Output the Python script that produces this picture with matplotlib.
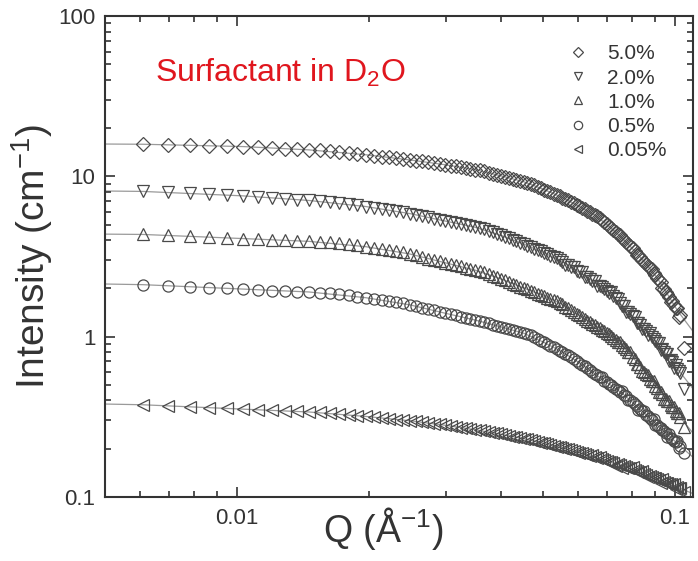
# SANS curves of the surfactant at five concentrations, with the model fits
# drawn as thin grey lines underneath the open markers

import matplotlib.pyplot as plt
from matplotlib.ticker import LogLocator, FixedLocator, FuncFormatter, NullFormatter

plt.rcParams['font.family'] = ['Liberation Sans', 'DejaVu Sans']

# measured Q (1/A), same grid for every sample
q = [0.0061, 0.00695, 0.0078, 0.00865, 0.0095, 0.01035, 0.0112, 0.01205, 0.0129, 0.01375,
     0.0146, 0.01545, 0.0163, 0.01715, 0.018, 0.01885, 0.0197, 0.02055, 0.0214, 0.02225,
     0.0231, 0.02395, 0.0248, 0.02565, 0.0265, 0.02735, 0.0282, 0.02905, 0.0299, 0.03075,
     0.0316, 0.03245, 0.0333, 0.03415, 0.035, 0.03585, 0.0367, 0.03755, 0.0384, 0.03925,
     0.0401,
     0.0418, 0.0435, 0.0452, 0.0469, 0.0486, 0.0503, 0.052, 0.0537, 0.0554, 0.0571,
     0.0588, 0.0605, 0.0622, 0.0639, 0.0656, 0.0673, 0.069, 0.0707, 0.0724, 0.0741,
     0.0758, 0.0775, 0.0792, 0.0809, 0.0826, 0.0843, 0.086, 0.0877, 0.0894, 0.0911,
     0.0928, 0.0945, 0.0962, 0.0979, 0.0996, 0.1013, 0.103,
     0.1047]

# intensities (1/cm)
i_5 = [15.85, 15.73, 15.62, 15.53, 15.44, 15.33, 15.16, 15.01, 14.87, 14.74,
       14.62, 14.50, 14.40, 14.26, 14.04, 13.83, 13.63, 13.45, 13.27, 13.11,
       12.95, 12.80, 12.66, 12.52, 12.39, 12.27, 12.12, 11.96, 11.81, 11.67,
       11.53, 11.39, 11.27, 11.14, 11.02, 10.90, 10.73, 10.55, 10.39, 10.22,
       10.07,
       9.77, 9.50, 9.25, 8.98, 8.61, 8.27, 7.95, 7.65, 7.37, 7.10,
       6.78, 6.49, 6.22, 5.97, 5.74, 5.51, 5.19, 4.89, 4.62, 4.36,
       4.12, 3.91, 3.67, 3.43, 3.22, 3.02, 2.84, 2.67, 2.51, 2.33,
       2.20, 1.99, 1.84, 1.65, 1.57, 1.50, 1.36,
       0.85]

i_2 = [8.05, 7.93, 7.82, 7.73, 7.65, 7.55, 7.44, 7.34, 7.24, 7.15,
       7.07, 7.00, 6.93, 6.84, 6.71, 6.59, 6.48, 6.37, 6.27, 6.18,
       6.09, 5.98, 5.86, 5.75, 5.64, 5.54, 5.45, 5.35, 5.26, 5.18,
       5.10, 5.02, 4.95, 4.88, 4.81, 4.74, 4.68, 4.58, 4.47, 4.37,
       4.28,
       4.10, 3.94, 3.78, 3.61, 3.47, 3.33, 3.20, 3.08, 2.94, 2.79,
       2.70, 2.52, 2.35, 2.28, 2.22, 2.08, 1.99, 1.86, 1.79, 1.71,
       1.56, 1.43, 1.38, 1.33, 1.22, 1.12, 1.09, 1.06, 0.973, 0.915,
       0.83, 0.806, 0.78, 0.711, 0.64, 0.631, 0.596,
       0.47]

i_1 = [4.34, 4.28, 4.22, 4.17, 4.13, 4.09, 4.05, 4.02, 3.99, 3.96,
       3.93, 3.91, 3.88, 3.85, 3.78, 3.71, 3.64, 3.58, 3.53, 3.47,
       3.42, 3.36, 3.28, 3.21, 3.14, 3.07, 3.01, 2.95, 2.89, 2.84,
       2.79, 2.74, 2.69, 2.64, 2.60, 2.56, 2.52, 2.46, 2.40, 2.34,
       2.29,
       2.19, 2.09, 2.01, 1.93, 1.85, 1.79, 1.72, 1.66, 1.59, 1.50,
       1.42, 1.36, 1.29, 1.23, 1.18, 1.13, 1.08, 1.04, 0.984, 0.930,
       0.881, 0.835, 0.80, 0.722, 0.672, 0.61, 0.585, 0.547, 0.53, 0.479,
       0.449, 0.41, 0.397, 0.373, 0.365, 0.332, 0.314,
       0.274]

i_05 = [2.11, 2.08, 2.05, 2.02, 2.00, 1.98, 1.96, 1.94, 1.93, 1.91,
        1.90, 1.88, 1.87, 1.85, 1.82, 1.78, 1.75, 1.72, 1.70, 1.67,
        1.64, 1.61, 1.58, 1.55, 1.51, 1.48, 1.46, 1.43, 1.40, 1.38,
        1.36, 1.33, 1.31, 1.29, 1.27, 1.25, 1.23, 1.21, 1.19, 1.17,
        1.15,
        1.11, 1.08, 1.05, 1.02, 0.966, 0.920, 0.877, 0.838, 0.801, 0.768,
        0.728, 0.689, 0.652, 0.619, 0.588, 0.559, 0.532, 0.508, 0.485, 0.463,
        0.455, 0.424, 0.402, 0.380, 0.35, 0.343, 0.326, 0.310, 0.305, 0.281,
        0.269, 0.257, 0.237, 0.234, 0.225, 0.225, 0.207,
        0.188]

i_005 = [0.376, 0.370, 0.365, 0.361, 0.357, 0.353, 0.350, 0.347, 0.344, 0.342,
         0.339, 0.337, 0.335, 0.330, 0.326, 0.322, 0.318, 0.314, 0.311, 0.308,
         0.304, 0.301, 0.299, 0.296, 0.293, 0.291, 0.287, 0.284, 0.280, 0.277,
         0.274, 0.271, 0.268, 0.265, 0.263, 0.260, 0.258, 0.254, 0.252, 0.249,
         0.246,
         0.240, 0.236, 0.231, 0.226, 0.221, 0.216, 0.211, 0.206, 0.202, 0.198,
         0.193, 0.189, 0.185, 0.181, 0.177, 0.178, 0.170, 0.166, 0.163, 0.160,
         0.152, 0.154, 0.151, 0.147, 0.144, 0.145, 0.138, 0.135, 0.132, 0.129,
         0.123, 0.124, 0.122, 0.120, 0.121, 0.115, 0.113,
         0.107]

# the in-between points of the high-Q part, where the data get dense
q_hi = [0.04095, 0.04265, 0.04435, 0.04605, 0.04775, 0.04945, 0.05115, 0.05285, 0.05455, 0.05625,
        0.05795, 0.05965, 0.06135, 0.06305, 0.06475, 0.06645, 0.06815, 0.06985, 0.07155, 0.07325,
        0.07495, 0.07665, 0.07835, 0.08005, 0.08175, 0.08345, 0.08515, 0.08685, 0.08855, 0.09025,
        0.09195, 0.09365, 0.09535, 0.09705, 0.09875, 0.10045, 0.10215]
i_5_hi = [9.92, 9.63, 9.37, 9.11, 8.79, 8.44, 8.11, 7.80, 7.51, 7.23,
          6.94, 6.63, 6.35, 6.09, 5.85, 5.62, 5.35, 5.04, 4.75, 4.49,
          4.32, 4.01, 3.79, 3.55, 3.25, 3.12, 2.93, 2.75, 2.65, 2.42,
          2.24, 2.02, 1.91, 1.77, 1.68, 1.51, 1.33]
i_2_hi = [4.19, 4.02, 3.86, 3.69, 3.54, 3.40, 3.26, 3.14, 3.01, 2.80,
          2.72, 2.58, 2.52, 2.34, 2.23, 2.07, 2.03, 1.94, 1.89, 1.73,
          1.61, 1.55, 1.42, 1.34, 1.22, 1.18, 1.12, 1.03, 1.00, 0.944,
          0.91, 0.832, 0.781, 0.71, 0.690, 0.67, 0.613]
i_1_hi = [2.24, 2.14, 2.05, 1.97, 1.89, 1.82, 1.75, 1.69, 1.62, 1.54,
          1.46, 1.39, 1.32, 1.26, 1.20, 1.15, 1.10, 1.06, 1.01, 0.957,
          0.93, 0.858, 0.806, 0.749, 0.68, 0.649, 0.605, 0.58, 0.529, 0.495,
          0.45, 0.436, 0.410, 0.395, 0.362, 0.342, 0.335]
i_05_hi = [1.13, 1.095, 1.065, 1.035, 0.993, 0.943, 0.898, 0.857, 0.819, 0.784,
           0.748, 0.708, 0.670, 0.635, 0.603, 0.573, 0.56, 0.520, 0.496, 0.474,
           0.453, 0.433, 0.40, 0.391, 0.370, 0.352, 0.345, 0.318, 0.302, 0.28,
           0.275, 0.263, 0.251, 0.247, 0.229, 0.220, 0.202]
i_005_hi = [0.243, 0.238, 0.2335, 0.2285, 0.2235, 0.2185, 0.2135, 0.2085, 0.204, 0.200,
            0.1955, 0.191, 0.187, 0.183, 0.183, 0.175, 0.1715, 0.168, 0.1645, 0.157,
            0.1585, 0.1555, 0.1525, 0.153, 0.1455, 0.1425, 0.1395, 0.133, 0.1335, 0.1305,
            0.128, 0.129, 0.123, 0.121, 0.1185, 0.112, 0.114]

# model fits, sampled coarsely over the whole axis range
fit_q = [0.005, 0.0061, 0.01035, 0.0146, 0.0197, 0.0248, 0.0299, 0.035, 0.0401, 0.0452, 0.0503,
         0.0554, 0.0605, 0.0656, 0.0707, 0.0758, 0.0809, 0.086, 0.0911, 0.0962, 0.1013, 0.11]
fit_5 = [15.9, 15.85, 15.33, 14.62, 13.63, 12.66, 11.81, 11.02, 10.07, 9.25, 8.27,
         7.37, 6.49, 5.74, 4.89, 4.12, 3.43, 2.84, 2.33, 1.84, 1.46, 1.08]
fit_2 = [8.1, 8.05, 7.55, 7.07, 6.48, 5.86, 5.26, 4.81, 4.28, 3.78, 3.33,
         2.94, 2.52, 2.18, 1.90, 1.56, 1.30, 1.09, 0.915, 0.757, 0.631, 0.474]
fit_1 = [4.36, 4.34, 4.09, 3.93, 3.64, 3.28, 2.89, 2.60, 2.29, 2.01, 1.79,
         1.59, 1.36, 1.18, 1.04, 0.881, 0.722, 0.585, 0.479, 0.397, 0.332, 0.25]
fit_05 = [2.13, 2.11, 1.98, 1.90, 1.75, 1.58, 1.40, 1.27, 1.15, 1.05, 0.920,
          0.801, 0.689, 0.588, 0.508, 0.443, 0.380, 0.326, 0.281, 0.245, 0.216, 0.177]
fit_005 = [0.38, 0.376, 0.353, 0.339, 0.318, 0.299, 0.280, 0.263, 0.246, 0.231, 0.216,
           0.202, 0.189, 0.177, 0.166, 0.157, 0.147, 0.138, 0.129, 0.122, 0.115, 0.105]

labels = ['5.0%', '2.0%', '1.0%', '0.5%', '0.05%']
markers = ['D', 'v', '^', 'o', '<']
sizes = [7.0, 8.5, 8.5, 8.0, 8.5]

data = [i_5, i_2, i_1, i_05, i_005]
data_hi = [i_5_hi, i_2_hi, i_1_hi, i_05_hi, i_005_hi]
fits = [fit_5, fit_2, fit_1, fit_05, fit_005]

fig = plt.figure(figsize=(6.98, 5.61), dpi=100)
ax = fig.add_axes([0.1504, 0.1141, 0.8424, 0.8574])

edge = '#4a4a4a'
for vals, hi, fit, lab, m, s in zip(data, data_hi, fits, labels, markers, sizes):
    ax.plot(fit_q, fit, color='#9a9a9a', lw=0.9, zorder=1)
    style = dict(linestyle='none', marker=m, markersize=s, markerfacecolor='none',
                 markeredgecolor=edge, markeredgewidth=0.9, zorder=2)
    ax.plot(q, vals, label=lab, **style)
    ax.plot(q_hi, hi, **style)

ax.set_xscale('log')
ax.set_yscale('log')
ax.set_xlim(0.005, 0.11)
ax.set_ylim(0.1, 100)

# ticks inward on all four sides
ax.xaxis.set_major_locator(FixedLocator([0.01, 0.1]))
ax.xaxis.set_minor_locator(LogLocator(base=10, subs=range(2, 10)))
ax.yaxis.set_major_locator(FixedLocator([0.1, 1, 10, 100]))
ax.yaxis.set_minor_locator(LogLocator(base=10, subs=range(2, 10)))
fmt = FuncFormatter(lambda v, p: '%g' % v)
ax.xaxis.set_major_formatter(fmt)
ax.yaxis.set_major_formatter(fmt)
ax.xaxis.set_minor_formatter(NullFormatter())
ax.yaxis.set_minor_formatter(NullFormatter())
ax.tick_params(which='both', direction='in', top=True, right=True,
               color='#333333', width=1.2, labelsize=16, labelcolor='#333333')
ax.tick_params(which='major', length=7)
ax.tick_params(which='minor', length=4.5)
ax.tick_params(axis='x', pad=8)
ax.tick_params(axis='y', pad=7)
for sp in ax.spines.values():
    sp.set_color('#333333')
    sp.set_linewidth(1.5)

ax.set_xlabel(r'Q ($\mathregular{\AA^{-1}}$)', fontsize=27, color='#333333')
ax.xaxis.set_label_coords(0.473, -0.017)
ax.xaxis.label.set_verticalalignment('top')
ax.set_ylabel(r'Intensity (cm$^\mathregular{-1}$)', fontsize=28, color='#333333', labelpad=2)

ax.text(0.085, 0.8815, r'Surfactant in D$_\mathregular{2}$O', transform=ax.transAxes,
        fontsize=23, color='#e0161e', ha='left', va='center')

leg = ax.legend(loc='upper left', bbox_to_anchor=(0.787, 0.941), frameon=False,
                fontsize=15, markerscale=0.75, handlelength=1.0, handletextpad=0.9,
                labelspacing=0.25, borderpad=0, borderaxespad=0)
for t in leg.get_texts():
    t.set_color('#333333')

fig.savefig('out.png', dpi=100)
